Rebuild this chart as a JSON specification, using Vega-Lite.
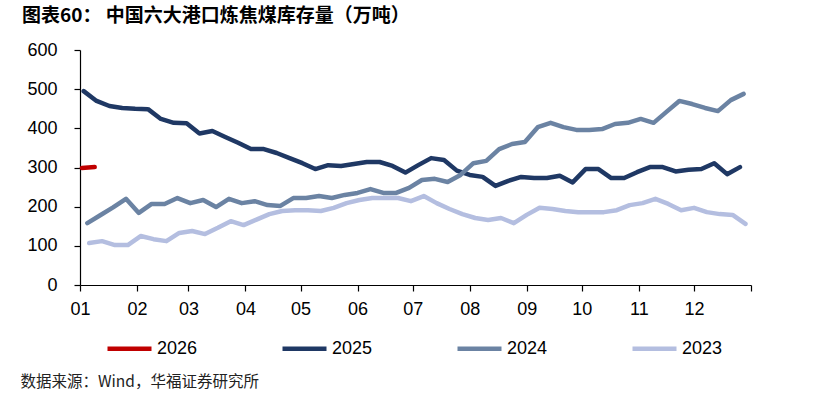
{
  "$schema": "https://vega.github.io/schema/vega-lite/v6.json",
  "width": 671,
  "height": 235,
  "autosize": {"type": "none"},
  "padding": {"left": 80, "top": 50, "right": 69, "bottom": 110},
  "background": "white",
  "title": {
    "text": "图表60：  中国六大港口炼焦煤库存量（万吨）",
    "anchor": "start",
    "frame": "group",
    "dx": -58,
    "offset": 6,
    "baseline": "middle",
    "font": "Noto Sans CJK SC",
    "fontSize": 19,
    "fontWeight": "bold",
    "color": "#000000"
  },
  "config": {
    "view": {"stroke": null},
    "font": "Liberation Sans"
  },
  "data": {
    "values": [
      {"year": "2026", "day": 1, "v": 299},
      {"year": "2026", "day": 8, "v": 301},

      {"year": "2025", "day": 2, "v": 495},
      {"year": "2025", "day": 9, "v": 470},
      {"year": "2025", "day": 16, "v": 457},
      {"year": "2025", "day": 23, "v": 452},
      {"year": "2025", "day": 30, "v": 450},
      {"year": "2025", "day": 37, "v": 449},
      {"year": "2025", "day": 44, "v": 424},
      {"year": "2025", "day": 51, "v": 414},
      {"year": "2025", "day": 58, "v": 413},
      {"year": "2025", "day": 65, "v": 387},
      {"year": "2025", "day": 72, "v": 393},
      {"year": "2025", "day": 79, "v": 378},
      {"year": "2025", "day": 86, "v": 363},
      {"year": "2025", "day": 93, "v": 347},
      {"year": "2025", "day": 100, "v": 347},
      {"year": "2025", "day": 107, "v": 337},
      {"year": "2025", "day": 114, "v": 324},
      {"year": "2025", "day": 121, "v": 311},
      {"year": "2025", "day": 128, "v": 296},
      {"year": "2025", "day": 135, "v": 306},
      {"year": "2025", "day": 142, "v": 304},
      {"year": "2025", "day": 149, "v": 309},
      {"year": "2025", "day": 156, "v": 314},
      {"year": "2025", "day": 163, "v": 314},
      {"year": "2025", "day": 170, "v": 304},
      {"year": "2025", "day": 177, "v": 287},
      {"year": "2025", "day": 184, "v": 306},
      {"year": "2025", "day": 191, "v": 324},
      {"year": "2025", "day": 198, "v": 319},
      {"year": "2025", "day": 205, "v": 292},
      {"year": "2025", "day": 212, "v": 281},
      {"year": "2025", "day": 219, "v": 276},
      {"year": "2025", "day": 226, "v": 253},
      {"year": "2025", "day": 233, "v": 266},
      {"year": "2025", "day": 240, "v": 276},
      {"year": "2025", "day": 247, "v": 273},
      {"year": "2025", "day": 254, "v": 273},
      {"year": "2025", "day": 261, "v": 279},
      {"year": "2025", "day": 268, "v": 262},
      {"year": "2025", "day": 275, "v": 296},
      {"year": "2025", "day": 282, "v": 296},
      {"year": "2025", "day": 289, "v": 273},
      {"year": "2025", "day": 296, "v": 273},
      {"year": "2025", "day": 303, "v": 288},
      {"year": "2025", "day": 310, "v": 301},
      {"year": "2025", "day": 317, "v": 301},
      {"year": "2025", "day": 324, "v": 290},
      {"year": "2025", "day": 331, "v": 294},
      {"year": "2025", "day": 338, "v": 296},
      {"year": "2025", "day": 345, "v": 311},
      {"year": "2025", "day": 352, "v": 283},
      {"year": "2025", "day": 359, "v": 301},

      {"year": "2024", "day": 4, "v": 158},
      {"year": "2024", "day": 11, "v": 178},
      {"year": "2024", "day": 18, "v": 198},
      {"year": "2024", "day": 25, "v": 220},
      {"year": "2024", "day": 32, "v": 184},
      {"year": "2024", "day": 39, "v": 207},
      {"year": "2024", "day": 46, "v": 207},
      {"year": "2024", "day": 53, "v": 222},
      {"year": "2024", "day": 60, "v": 209},
      {"year": "2024", "day": 67, "v": 217},
      {"year": "2024", "day": 74, "v": 199},
      {"year": "2024", "day": 81, "v": 220},
      {"year": "2024", "day": 88, "v": 209},
      {"year": "2024", "day": 95, "v": 214},
      {"year": "2024", "day": 102, "v": 204},
      {"year": "2024", "day": 109, "v": 202},
      {"year": "2024", "day": 116, "v": 222},
      {"year": "2024", "day": 123, "v": 222},
      {"year": "2024", "day": 130, "v": 227},
      {"year": "2024", "day": 137, "v": 222},
      {"year": "2024", "day": 144, "v": 230},
      {"year": "2024", "day": 151, "v": 235},
      {"year": "2024", "day": 158, "v": 245},
      {"year": "2024", "day": 165, "v": 235},
      {"year": "2024", "day": 172, "v": 235},
      {"year": "2024", "day": 179, "v": 248},
      {"year": "2024", "day": 186, "v": 268},
      {"year": "2024", "day": 193, "v": 271},
      {"year": "2024", "day": 200, "v": 263},
      {"year": "2024", "day": 207, "v": 281},
      {"year": "2024", "day": 214, "v": 311},
      {"year": "2024", "day": 221, "v": 317},
      {"year": "2024", "day": 228, "v": 347},
      {"year": "2024", "day": 235, "v": 360},
      {"year": "2024", "day": 242, "v": 365},
      {"year": "2024", "day": 249, "v": 403},
      {"year": "2024", "day": 256, "v": 414},
      {"year": "2024", "day": 263, "v": 403},
      {"year": "2024", "day": 270, "v": 396},
      {"year": "2024", "day": 277, "v": 396},
      {"year": "2024", "day": 284, "v": 398},
      {"year": "2024", "day": 291, "v": 411},
      {"year": "2024", "day": 298, "v": 414},
      {"year": "2024", "day": 305, "v": 424},
      {"year": "2024", "day": 312, "v": 414},
      {"year": "2024", "day": 319, "v": 442},
      {"year": "2024", "day": 326, "v": 470},
      {"year": "2024", "day": 333, "v": 462},
      {"year": "2024", "day": 340, "v": 452},
      {"year": "2024", "day": 347, "v": 444},
      {"year": "2024", "day": 354, "v": 472},
      {"year": "2024", "day": 361, "v": 488},

      {"year": "2023", "day": 5, "v": 107},
      {"year": "2023", "day": 12, "v": 112},
      {"year": "2023", "day": 19, "v": 102},
      {"year": "2023", "day": 26, "v": 102},
      {"year": "2023", "day": 33, "v": 125},
      {"year": "2023", "day": 40, "v": 117},
      {"year": "2023", "day": 47, "v": 112},
      {"year": "2023", "day": 54, "v": 133},
      {"year": "2023", "day": 61, "v": 138},
      {"year": "2023", "day": 68, "v": 130},
      {"year": "2023", "day": 75, "v": 146},
      {"year": "2023", "day": 82, "v": 163},
      {"year": "2023", "day": 89, "v": 153},
      {"year": "2023", "day": 96, "v": 167},
      {"year": "2023", "day": 103, "v": 181},
      {"year": "2023", "day": 110, "v": 189},
      {"year": "2023", "day": 117, "v": 191},
      {"year": "2023", "day": 124, "v": 191},
      {"year": "2023", "day": 131, "v": 189},
      {"year": "2023", "day": 138, "v": 197},
      {"year": "2023", "day": 145, "v": 209},
      {"year": "2023", "day": 152, "v": 217},
      {"year": "2023", "day": 159, "v": 222},
      {"year": "2023", "day": 166, "v": 222},
      {"year": "2023", "day": 173, "v": 222},
      {"year": "2023", "day": 180, "v": 214},
      {"year": "2023", "day": 187, "v": 227},
      {"year": "2023", "day": 194, "v": 209},
      {"year": "2023", "day": 201, "v": 194},
      {"year": "2023", "day": 208, "v": 181},
      {"year": "2023", "day": 215, "v": 171},
      {"year": "2023", "day": 222, "v": 166},
      {"year": "2023", "day": 229, "v": 171},
      {"year": "2023", "day": 236, "v": 158},
      {"year": "2023", "day": 243, "v": 179},
      {"year": "2023", "day": 250, "v": 197},
      {"year": "2023", "day": 257, "v": 194},
      {"year": "2023", "day": 264, "v": 189},
      {"year": "2023", "day": 271, "v": 186},
      {"year": "2023", "day": 278, "v": 186},
      {"year": "2023", "day": 285, "v": 186},
      {"year": "2023", "day": 292, "v": 191},
      {"year": "2023", "day": 299, "v": 204},
      {"year": "2023", "day": 306, "v": 209},
      {"year": "2023", "day": 313, "v": 220},
      {"year": "2023", "day": 320, "v": 207},
      {"year": "2023", "day": 327, "v": 191},
      {"year": "2023", "day": 334, "v": 197},
      {"year": "2023", "day": 341, "v": 186},
      {"year": "2023", "day": 348, "v": 181},
      {"year": "2023", "day": 355, "v": 179},
      {"year": "2023", "day": 362, "v": 156}
    ]
  },
  "mark": {"type": "line", "strokeWidth": 4.5, "strokeJoin": "round", "strokeCap": "round"},
  "encoding": {
    "x": {
      "field": "day",
      "type": "quantitative",
      "scale": {"domain": [0, 365], "nice": false, "zero": false},
      "axis": {
        "values": [0, 31, 59, 90, 120, 151, 181, 212, 243, 273, 304, 334, 365],
        "labelExpr": "datum.value >= 365 ? '' : (month(datetime(2001, 0, 1 + datum.value)) < 9 ? '0' : '') + (month(datetime(2001, 0, 1 + datum.value)) + 1)",
        "grid": false,
        "domainColor": "#000000",
        "domainWidth": 1.2,
        "tickColor": "#000000",
        "tickSize": 6,
        "tickWidth": 1.2,
        "labelFont": "Liberation Sans",
        "labelFontSize": 18,
        "labelColor": "#000000",
        "labelPadding": 9,
        "labelFlush": false,
        "labelOverlap": false,
        "title": "数据来源：Wind，华福证券研究所",
        "titleFont": "Noto Sans CJK SC",
        "titleFontSize": 15.5,
        "titleFontWeight": "normal",
        "titleColor": "#222222",
        "titleAnchor": "start",
        "titleAlign": "left",
        "titleBaseline": "middle",
        "titleX": -60,
        "titleY": 96
      }
    },
    "y": {
      "field": "v",
      "type": "quantitative",
      "scale": {"domain": [0, 600], "nice": false},
      "axis": {
        "values": [0, 100, 200, 300, 400, 500, 600],
        "grid": false,
        "domainColor": "#000000",
        "domainWidth": 1.2,
        "tickColor": "#000000",
        "tickSize": 6,
        "tickWidth": 1.2,
        "labelFont": "Liberation Sans",
        "labelFontSize": 18,
        "labelColor": "#000000",
        "labelPadding": 17,
        "title": null
      }
    },
    "color": {
      "field": "year",
      "type": "nominal",
      "scale": {
        "domain": ["2026", "2025", "2024", "2023"],
        "range": ["#C00000", "#1F3864", "#6B83A3", "#B4BEE0"]
      },
      "legend": {
        "orient": "none",
        "direction": "horizontal",
        "legendX": 25,
        "legendY": 274,
        "title": null,
        "symbolType": "stroke",
        "symbolSize": 1936,
        "symbolStrokeWidth": 4.5,
        "labelFont": "Liberation Sans",
        "labelFontSize": 18,
        "labelColor": "#000000",
        "labelOffset": 3,
        "columnPadding": 75,
        "padding": 0
      }
    },
    "order": {"field": "year", "sort": "ascending"}
  }
}
